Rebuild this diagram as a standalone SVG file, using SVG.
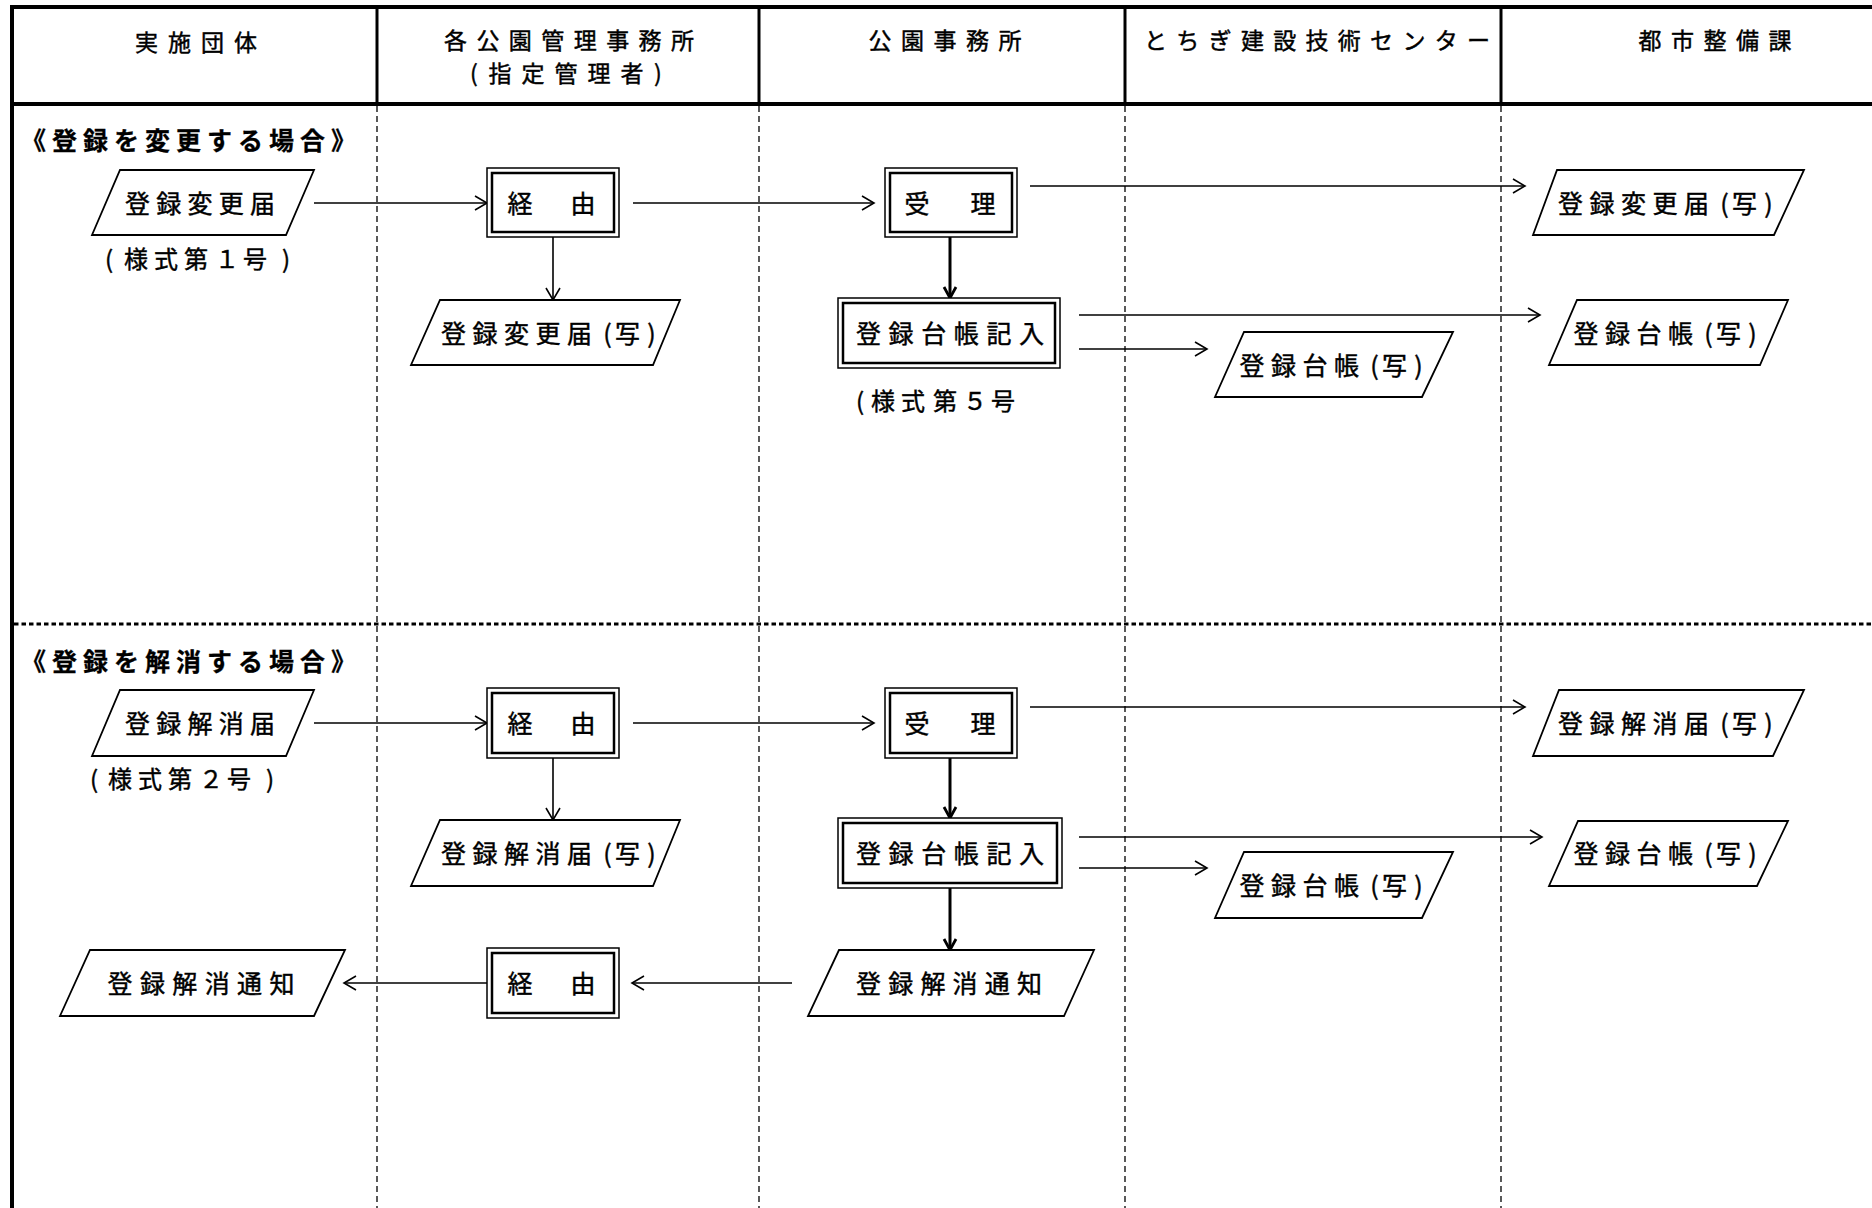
<svg xmlns="http://www.w3.org/2000/svg" width="1872" height="1208" viewBox="0 0 1872 1208">
<style>
  text { font-family: "Noto Sans CJK JP", "Noto Sans CJK SC", sans-serif; fill: #000; stroke: #000; stroke-width: 0.45; dominant-baseline: central; text-anchor: middle; }
  .hd { font-size: 23px; }
  .nt { font-size: 25px; }
  .sm { font-size: 24px; }
  .sec { font-size: 25px; font-weight: bold; text-anchor: start; stroke-width: 0.3; }
  .para { fill: #fff; stroke: #000; stroke-width: 1.8; stroke-linejoin: miter; }
  .outer { fill: #fff; stroke: #000; stroke-width: 1.5; }
  .inner { fill: none; stroke: #000; stroke-width: 2.5; }
  .frame { stroke: #000; stroke-width: 4; fill: none; }
  .col { stroke: #000; stroke-width: 3; }
  .lane { stroke: #000; stroke-width: 1.3; stroke-dasharray: 6 4; }
  .sep { stroke: #000; stroke-width: 3; stroke-dasharray: 4.5 3; }
  .c { stroke: #000; stroke-width: 1.6; fill: none; marker-end: url(#ah); }
  .cb { stroke: #000; stroke-width: 3; fill: none; marker-end: url(#ahb); }
</style>
<defs>
  <marker id="ah" markerUnits="userSpaceOnUse" markerWidth="16" markerHeight="16" viewBox="0 0 16 16" refX="14" refY="8" orient="auto">
    <path d="M2,1 L14,8 L2,15" fill="none" stroke="#000" stroke-width="1.6"/>
  </marker>
  <marker id="ahb" markerUnits="userSpaceOnUse" markerWidth="16" markerHeight="16" viewBox="0 0 16 16" refX="14" refY="8" orient="auto">
    <path d="M3,2 L14,8 L3,14" fill="none" stroke="#000" stroke-width="2.8"/>
  </marker>
</defs>
<rect x="0" y="0" width="1872" height="1208" fill="#fff"/>

<g id="lanes">
  <line class="frame" x1="10" y1="7" x2="1872" y2="7"/>
  <line class="frame" x1="10" y1="104" x2="1872" y2="104"/>
  <line class="frame" x1="12" y1="5" x2="12" y2="1208"/>
  <line class="col" x1="377" y1="7" x2="377" y2="104"/>
  <line class="col" x1="759" y1="7" x2="759" y2="104"/>
  <line class="col" x1="1125" y1="7" x2="1125" y2="104"/>
  <line class="col" x1="1501" y1="7" x2="1501" y2="104"/>
  <line class="lane" x1="377" y1="106" x2="377" y2="1208"/>
  <line class="lane" x1="759" y1="106" x2="759" y2="1208"/>
  <line class="lane" x1="1125" y1="106" x2="1125" y2="1208"/>
  <line class="lane" x1="1501" y1="106" x2="1501" y2="1208"/>
  <line class="sep" x1="14" y1="624" x2="1872" y2="624"/>
  <text class="hd" x="196" y="41" textLength="122" lengthAdjust="spacing">実施団体</text>
  <text class="hd" x="569" y="39" textLength="250" lengthAdjust="spacing">各公園管理事務所</text>
  <text class="hd" x="474 500 533 566 599 632 658" y="72">(指定管理者)</text>
  <text class="hd" x="945" y="39" textLength="153" lengthAdjust="spacing">公園事務所</text>
  <text class="hd" x="1317" y="39" textLength="346" lengthAdjust="spacing">とちぎ建設技術センター</text>
  <text class="hd" x="1715" y="39" textLength="153" lengthAdjust="spacing">都市整備課</text>
  <text class="sec" x="21" y="139" textLength="335" lengthAdjust="spacing">《登録を変更する場合》</text>
  <text class="sec" x="21" y="660" textLength="335" lengthAdjust="spacing">《登録を解消する場合》</text>
</g>

<g id="connectors">
  <line class="c" x1="314" y1="203" x2="487" y2="203"/>
  <line class="c" x1="633" y1="203" x2="874" y2="203"/>
  <line class="c" x1="553" y1="237" x2="553" y2="300"/>
  <line class="c" x1="1030" y1="186" x2="1525" y2="186"/>
  <line class="cb" x1="950" y1="237" x2="950" y2="298"/>
  <line class="c" x1="1079" y1="315" x2="1540" y2="315"/>
  <line class="c" x1="1079" y1="349" x2="1207" y2="349"/>

  <line class="c" x1="314" y1="723" x2="487" y2="723"/>
  <line class="c" x1="633" y1="723" x2="874" y2="723"/>
  <line class="c" x1="553" y1="758" x2="553" y2="820"/>
  <line class="c" x1="1030" y1="707" x2="1525" y2="707"/>
  <line class="cb" x1="950" y1="758" x2="950" y2="818"/>
  <line class="c" x1="1079" y1="837" x2="1542" y2="837"/>
  <line class="c" x1="1079" y1="868" x2="1207" y2="868"/>
  <line class="cb" x1="950" y1="888" x2="950" y2="950"/>
  <line class="c" x1="792" y1="983" x2="632" y2="983"/>
  <line class="c" x1="487" y1="983" x2="344" y2="983"/>
</g>

<!-- Section 1 -->
<g id="n-henko-todoke">
  <polygon class="para" points="120,170 314,170 286,235 92,235"/>
  <text class="nt" x="200" y="202" textLength="150" lengthAdjust="spacing">登録変更届</text>
  <text class="sm" x="109 136 166 196 227 255 286" y="257">(様式第１号)</text>
</g>
<g id="n-keiyu-1">
  <rect class="outer" x="487" y="168" width="132" height="69"/>
  <rect class="inner" x="492" y="173" width="122" height="59"/>
  <text class="nt" x="520 583" y="202">経由</text>
</g>
<g id="n-henko-copy-2">
  <polygon class="para" points="440,300 680,300 653,365 411,365"/>
  <text class="nt" x="453.5 485 516.5 548 579.5 607.5 627.5 651.5" y="332">登録変更届(写)</text>
</g>
<g id="n-juri-1">
  <rect class="outer" x="885" y="168" width="132" height="69"/>
  <rect class="inner" x="890" y="173" width="122" height="59"/>
  <text class="nt" x="917 983" y="202">受理</text>
</g>
<g id="n-henko-copy-5">
  <polygon class="para" points="1557,170 1804,170 1774,235 1533,235"/>
  <text class="nt" x="1570.5 1602 1633.5 1665 1696.5 1724.5 1744.5 1768.5" y="202">登録変更届(写)</text>
</g>
<g id="n-daicho-1">
  <rect class="outer" x="838" y="298" width="222" height="70"/>
  <rect class="inner" x="843" y="303" width="212" height="60"/>
  <text class="nt" x="950" y="332" textLength="188" lengthAdjust="spacing">登録台帳記入</text>
  <text class="sm" x="860 883 913 945 975 1003" y="399">(様式第５号</text>
</g>
<g id="n-daicho-copy-4">
  <polygon class="para" points="1244,332 1453,332 1422,397 1215,397"/>
  <text class="nt" x="1252 1283.5 1315 1346.5 1374.5 1394.5 1418.5" y="364">登録台帳(写)</text>
</g>
<g id="n-daicho-copy-5">
  <polygon class="para" points="1577,300 1788,300 1760,365 1549,365"/>
  <text class="nt" x="1586 1617.5 1649 1680.5 1708.5 1728.5 1752.5" y="332">登録台帳(写)</text>
</g>

<!-- Section 2 -->
<g id="n-kaisho-todoke">
  <polygon class="para" points="120,690 314,690 286,756 92,756"/>
  <text class="nt" x="200" y="722" textLength="150" lengthAdjust="spacing">登録解消届</text>
  <text class="sm" x="94 120 150 180 211 239 270" y="777">(様式第２号)</text>
</g>
<g id="n-keiyu-2">
  <rect class="outer" x="487" y="688" width="132" height="70"/>
  <rect class="inner" x="492" y="693" width="122" height="60"/>
  <text class="nt" x="520 583" y="722">経由</text>
</g>
<g id="n-kaisho-copy-2">
  <polygon class="para" points="440,820 680,820 653,886 411,886"/>
  <text class="nt" x="453.5 485 516.5 548 579.5 607.5 627.5 651.5" y="852">登録解消届(写)</text>
</g>
<g id="n-juri-2">
  <rect class="outer" x="885" y="688" width="132" height="70"/>
  <rect class="inner" x="890" y="693" width="122" height="60"/>
  <text class="nt" x="917 983" y="722">受理</text>
</g>
<g id="n-kaisho-copy-5">
  <polygon class="para" points="1559,690 1804,690 1773,756 1533,756"/>
  <text class="nt" x="1570.5 1602 1633.5 1665 1696.5 1724.5 1744.5 1768.5" y="722">登録解消届(写)</text>
</g>
<g id="n-daicho-2">
  <rect class="outer" x="838" y="818" width="224" height="70"/>
  <rect class="inner" x="843" y="823" width="214" height="60"/>
  <text class="nt" x="950" y="852" textLength="188" lengthAdjust="spacing">登録台帳記入</text>
</g>
<g id="n-daicho-copy-4b">
  <polygon class="para" points="1244,852 1453,852 1422,918 1215,918"/>
  <text class="nt" x="1252 1283.5 1315 1346.5 1374.5 1394.5 1418.5" y="884">登録台帳(写)</text>
</g>
<g id="n-daicho-copy-5b">
  <polygon class="para" points="1578,821 1788,821 1757,886 1549,886"/>
  <text class="nt" x="1586 1617.5 1649 1680.5 1708.5 1728.5 1752.5" y="852">登録台帳(写)</text>
</g>
<g id="n-tsuchi-3">
  <polygon class="para" points="839,950 1094,950 1064,1016 808,1016"/>
  <text class="nt" x="949" y="982" textLength="186" lengthAdjust="spacing">登録解消通知</text>
</g>
<g id="n-keiyu-3">
  <rect class="outer" x="487" y="948" width="132" height="70"/>
  <rect class="inner" x="492" y="953" width="122" height="60"/>
  <text class="nt" x="520 583" y="982">経由</text>
</g>
<g id="n-tsuchi-1">
  <polygon class="para" points="90,950 345,950 314,1016 60,1016"/>
  <text class="nt" x="201" y="982" textLength="187" lengthAdjust="spacing">登録解消通知</text>
</g>
</svg>
